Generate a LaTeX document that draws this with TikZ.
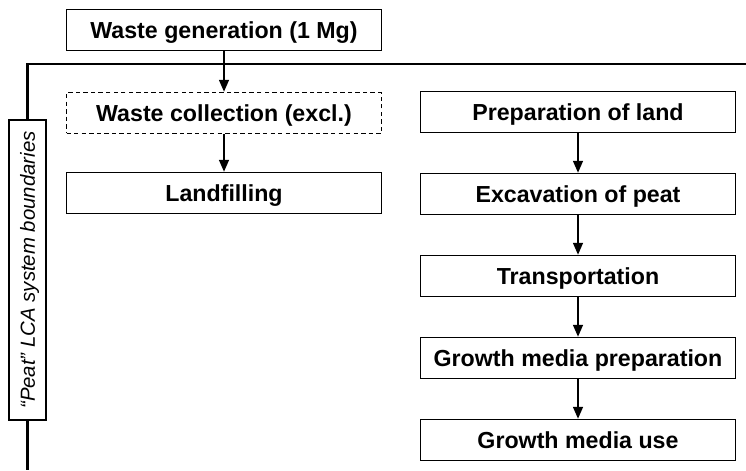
\documentclass[tikz,border=0pt]{standalone}
\usepackage{fontspec}
\setmainfont{Liberation Sans}
\usepackage{tikz}
\usetikzlibrary{arrows.meta}

\begin{document}
\begin{tikzpicture}[x=0.02cm, y=-0.02cm,
		stage/.style={draw, line width=0.9pt, minimum width=6.3cm, minimum height=0.82cm, inner sep=0pt, text height=12.5pt, text depth=3pt, font=\fontsize{13.2}{15}\selectfont\bfseries},
		excl/.style={stage, dash pattern=on 2.5pt off 1.8pt},
		bound/.style={draw, line width=1.1pt, rotate=90, minimum width=6cm, minimum height=0.74cm, inner sep=0pt, text height=11pt, text depth=2.6pt, font=\fontsize{11.6}{13}\selectfont\itshape},
		boundary/.style={line width=1.6pt},
		flow/.style={-{Triangle[width=5.7pt, length=6.8pt]}, line width=0.85pt}]
		\useasboundingbox (0,0) rectangle (746,470);

		% left column
		\node[stage] (gen) at (224, 30) {Waste generation (1 Mg)};
		\node[excl] (coll) at (224, 113) {Waste collection (excl.)};
		\node[stage] (landf) at (224, 193) {Landfilling};

		% right column
		\node[stage] (prep) at (578, 112) {Preparation of land};
		\node[stage] (excav) at (578, 194) {Excavation of peat};
		\node[stage] (transp) at (578, 276) {Transportation};
		\node[stage] (mprep) at (578, 358) {Growth media preparation};
		\node[stage] (muse) at (578, 440) {Growth media use};

		% system boundaries
		\node[bound] (lbl) at (27.5, 270) {“Peat” LCA system boundaries};
		\coordinate (corner) at (27.5, 64);
		\coordinate (rend) at (746, 64);
		\coordinate (bend) at (27.5, 470);
		\draw[boundary] (lbl.east) -- (corner) -- (rend);
		\draw[boundary] (lbl.west) -- (bend);

		\draw[flow] (gen) -- (coll);
		\draw[flow] (coll) -- (landf);
		\draw[flow] (prep) -- (excav);
		\draw[flow] (excav) -- (transp);
		\draw[flow] (transp) -- (mprep);
		\draw[flow] (mprep) -- (muse);
	\end{tikzpicture}
\end{document}
